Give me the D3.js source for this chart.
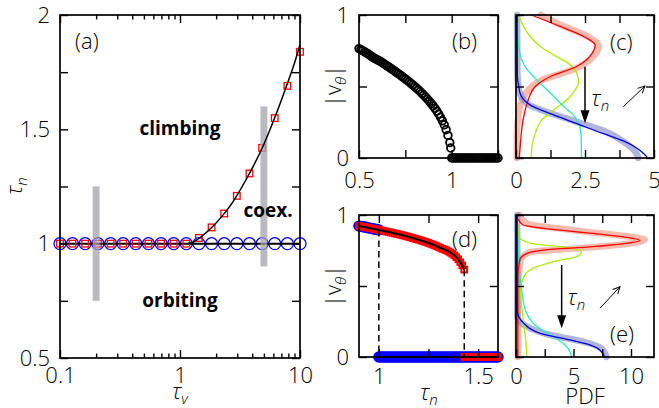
<!DOCTYPE html>
<html>
<head>
<meta charset="utf-8">
<script src="https://cdn.jsdelivr.net/npm/d3@7"></script>
<style>
  body { margin: 0; background: #fff; }
  svg text { font-family: "Open Sans", "DejaVu Sans", sans-serif; font-weight: 300; fill: #000; }
  .tick text { font-size: 22px; }
  .tick line { stroke: #000; stroke-width: 1.4; }
  .bold { font-weight: 700; font-size: 19px; }
</style>
</head>
<body>
<svg id="chart" width="659" height="408"></svg>
<script>
// ---- (a) phase diagram tau_n vs tau_v ----
const tauV = [0.1, 0.127, 0.162, 0.207, 0.264, 0.336, 0.428, 0.546, 0.695, 0.886,
              1.129, 1.438, 1.833, 2.336, 2.976, 3.793, 4.833, 6.158, 7.848, 10];
const tauNOrbit = [1, 1, 1, 1, 1, 1, 1, 1, 1, 1, 1, 1, 1, 1, 1, 1, 1, 1, 1, 1];
const tauNClimb = [1, 1, 1, 1, 1, 1, 1, 1, 1, 1,
                   1, 1.025, 1.071, 1.132, 1.209, 1.307, 1.419, 1.549, 1.690, 1.839];
const fitTauV = [1.13, 1.3, 1.5, 1.8, 2.2, 2.7, 3.3, 4, 5, 6.2, 7.6, 9, 10];
const fitTauN = [1.0, 1.008, 1.03, 1.066, 1.115, 1.175, 1.25, 1.33, 1.435, 1.555, 1.68, 1.79, 1.87];
const barTauV = [0.2, 5];
const barLow = [0.75, 0.9];
const barHigh = [1.25, 1.6];
const aXMajor = [0.1, 1, 10];
const aXMajorLabels = ['0.1', '1', '10'];
const aXMinor = [0.2, 0.3, 0.4, 0.5, 0.6, 0.7, 0.8, 0.9, 2, 3, 4, 5, 6, 7, 8, 9];
const aYTicks = [0.5, 0.75, 1, 1.25, 1.5, 1.75, 2];
const aYLabels = ['0.5', '', '1', '', '1.5', '', '2'];

// ---- (b) |v_theta| vs tau_n ----
const bTau = [0.50, 0.51, 0.52, 0.53, 0.54, 0.55, 0.56, 0.57, 0.58, 0.59,
              0.60, 0.61, 0.62, 0.63, 0.64, 0.65, 0.66, 0.67, 0.68, 0.69,
              0.70, 0.71, 0.72, 0.73, 0.74, 0.75, 0.76, 0.77, 0.78, 0.79,
              0.80, 0.81, 0.82, 0.83, 0.84, 0.85, 0.86, 0.87, 0.88, 0.89,
              0.90, 0.91, 0.92, 0.93, 0.94, 0.95, 0.96, 0.97, 0.98, 0.99, 0.995,
              1.00, 1.01, 1.02, 1.03, 1.04, 1.05, 1.06, 1.07, 1.08, 1.09, 1.10, 1.11, 1.12,
              1.13, 1.14, 1.15, 1.16, 1.17, 1.18, 1.19, 1.20, 1.21, 1.22, 1.23, 1.24, 1.25];
const bVel = [0.765, 0.758, 0.750, 0.743, 0.735, 0.727, 0.718, 0.709, 0.700, 0.693,
              0.686, 0.679, 0.671, 0.663, 0.654, 0.646, 0.637, 0.628, 0.619, 0.610,
              0.601, 0.592, 0.582, 0.573, 0.563, 0.553, 0.543, 0.533, 0.522, 0.511,
              0.500, 0.489, 0.477, 0.465, 0.452, 0.439, 0.425, 0.411, 0.396, 0.380,
              0.364, 0.347, 0.328, 0.308, 0.285, 0.260, 0.232, 0.198, 0.158, 0.108, 0.070,
              0, 0, 0, 0, 0, 0, 0, 0, 0, 0, 0, 0, 0,
              0, 0, 0, 0, 0, 0, 0, 0, 0, 0, 0, 0, 0];
const bXTicks = [0.5, 0.75, 1, 1.25];
const bXLabels = ['0.5', '', '1', ''];
const vTicks = [0, 0.5, 1];
const vLabels = ['0', '', '1'];

// ---- (c) PDF of |v_theta|, pairs [pdf, v] ----
const cPinkBand = [[0.9, 1.0], [1.75, 0.92], [2.6, 0.85], [3.0, 0.78], [2.8, 0.71], [2.1, 0.62],
                   [1.0, 0.55], [0.34, 0.45], [0.12, 0.34], [0.03, 0.15], [0.03, 0]];
const cBlueBand = [[0.04, 1.0], [0.05, 0.6], [0.1, 0.48], [0.4, 0.38], [1.0, 0.33], [2.09, 0.26],
                   [3.17, 0.19], [4.0, 0.10], [4.37, 0.03], [4.43, 0]];
const cYellow = [[0.1, 1.0], [0.47, 0.86], [0.88, 0.78], [1.37, 0.72], [1.91, 0.66], [2.21, 0.59],
                 [2.27, 0.535], [2.15, 0.477], [1.85, 0.407], [1.37, 0.337], [0.94, 0.267],
                 [0.7, 0.174], [0.58, 0.081], [0.55, 0]];
const cCyan = [[0.03, 1.0], [0.06, 0.85], [0.12, 0.75], [0.22, 0.68], [0.4, 0.62], [0.68, 0.56],
               [1.0, 0.5], [1.37, 0.43], [1.73, 0.36], [2.03, 0.31], [2.22, 0.26], [2.31, 0.22],
               [2.36, 0.15], [2.37, 0]];
const cRed = [[0.55, 1.0], [1.6, 0.92], [2.45, 0.85], [2.87, 0.79], [2.75, 0.73], [2.2, 0.64],
              [1.25, 0.57], [0.7, 0.5], [0.4, 0.38], [0.26, 0.27], [0.16, 0.1], [0.12, 0]];
const cBlue = [[0.04, 1.0], [0.05, 0.57], [0.1, 0.5], [0.17, 0.44], [0.52, 0.37], [1.25, 0.31],
               [2.21, 0.24], [3.17, 0.17], [3.89, 0.12], [4.37, 0.07], [4.6, 0.035], [4.73, 0.01], [4.75, 0]];
const cXTicks = [0, 1.25, 2.5, 3.75, 5];
const cXLabels = ['0', '', '2.5', '', '5'];

// ---- (d) |v_theta| vs tau_n, bistable ----
const dUpperTau = [0.90, 0.91, 0.92, 0.93, 0.94, 0.95, 0.96, 0.97, 0.98, 0.99,
                   1.00, 1.01, 1.02, 1.03, 1.04, 1.05, 1.06, 1.07, 1.08, 1.09,
                   1.10, 1.11, 1.12, 1.13, 1.14, 1.15, 1.16, 1.17, 1.18, 1.19,
                   1.20, 1.21, 1.22, 1.23, 1.24, 1.25, 1.26, 1.27, 1.28, 1.29,
                   1.30, 1.31, 1.32, 1.33, 1.34, 1.35, 1.36, 1.37, 1.38, 1.39,
                   1.40, 1.41, 1.42, 1.43];
const dUpperVel = [0.922, 0.920, 0.917, 0.915, 0.912, 0.909, 0.906, 0.903, 0.900, 0.898,
                   0.895, 0.892, 0.889, 0.886, 0.883, 0.880, 0.877, 0.874, 0.870, 0.867,
                   0.864, 0.861, 0.857, 0.854, 0.850, 0.846, 0.842, 0.838, 0.834, 0.830,
                   0.826, 0.822, 0.817, 0.813, 0.808, 0.803, 0.798, 0.793, 0.787, 0.781,
                   0.775, 0.769, 0.762, 0.757, 0.752, 0.744, 0.736, 0.727, 0.716, 0.703,
                   0.688, 0.668, 0.645, 0.615];
const dBlueUpperTau = [0.90, 0.91, 0.92, 0.93, 0.94, 0.95, 0.96, 0.97, 0.98, 0.99, 1.00];
const dBlueUpperVel = [0.922, 0.920, 0.917, 0.915, 0.912, 0.909, 0.906, 0.903, 0.900, 0.898, 0.895];
const dLowerTau = [1.00, 1.01, 1.02, 1.03, 1.04, 1.05, 1.06, 1.07, 1.08, 1.09,
                   1.10, 1.11, 1.12, 1.13, 1.14, 1.15, 1.16, 1.17, 1.18, 1.19,
                   1.20, 1.21, 1.22, 1.23, 1.24, 1.25, 1.26, 1.27, 1.28, 1.29,
                   1.30, 1.31, 1.32, 1.33, 1.34, 1.35, 1.36, 1.37, 1.38, 1.39,
                   1.40, 1.41, 1.42, 1.43, 1.44, 1.45, 1.46, 1.47, 1.48, 1.49,
                   1.50, 1.51, 1.52, 1.53, 1.54, 1.55, 1.56, 1.57, 1.58, 1.59, 1.60];
const dLowerVel = [0, 0, 0, 0, 0, 0, 0, 0, 0, 0, 0, 0, 0, 0, 0, 0, 0, 0, 0, 0,
                   0, 0, 0, 0, 0, 0, 0, 0, 0, 0, 0, 0, 0, 0, 0, 0, 0, 0, 0, 0,
                   0, 0, 0, 0, 0, 0, 0, 0, 0, 0, 0, 0, 0, 0, 0, 0, 0, 0, 0, 0, 0];
const dRedLowerTau = [1.43, 1.44, 1.45, 1.46, 1.47, 1.48, 1.49, 1.50, 1.51, 1.52,
                      1.53, 1.54, 1.55, 1.56, 1.57, 1.58, 1.59, 1.60];
const dRedLowerVel = [0, 0, 0, 0, 0, 0, 0, 0, 0, 0, 0, 0, 0, 0, 0, 0, 0, 0];
const dDashTau = [1.0, 1.43];
const dDashTop = [0.895, 0.615];
const dXTicks = [1, 1.25, 1.5];
const dXLabels = ['1', '', '1.5'];

// ---- (e) PDF of |v_theta|, pairs [pdf, v] ----
const ePinkBand = [[0.3, 1.0], [0.96, 0.94], [5.27, 0.89], [9.58, 0.85], [11.2, 0.825], [9.58, 0.796],
                   [5.27, 0.765], [1.25, 0.74], [0.39, 0.68], [0.16, 0.45], [0.16, 0]];
const eBlueBand = [[0.1, 1.0], [0.12, 0.28], [0.96, 0.214], [2.97, 0.155], [5.85, 0.108], [7.43, 0.06], [7.86, 0]];
const eYellow = [[0.1, 1.0], [0.24, 0.85], [1.25, 0.8], [3.84, 0.777], [5.7, 0.742], [5.27, 0.706],
                 [3.84, 0.683], [1.82, 0.636], [0.68, 0.566], [0.39, 0.47], [0.53, 0.33], [0.82, 0.143], [0.96, 0]];
const eCyan = [[0.1, 1.0], [0.25, 0.66], [0.53, 0.45], [0.82, 0.33], [1.82, 0.214], [3.26, 0.143],
               [4.41, 0.073], [4.84, 0]];
const eRed = [[0.2, 0.97], [0.6, 0.93], [2.4, 0.906], [6.71, 0.87], [9.58, 0.843], [10.8, 0.82],
              [9.58, 0.80], [6.71, 0.777], [2.4, 0.753], [0.96, 0.73], [0.33, 0.683], [0.16, 0.566], [0.16, 0]];
const eBlue = [[0.1, 1.0], [0.1, 0.33], [0.68, 0.237], [2.11, 0.167], [4.7, 0.12], [6.42, 0.085],
               [7.29, 0.05], [7.7, 0]];
const eXTicks = [0, 2.5, 5, 7.5, 10];
const eXLabels = ['0', '', '5', '', '10'];

const svg = d3.select('#chart');

// panel boxes in pixels
const pa = {x0: 60, x1: 300, y0: 15, y1: 358};
const pb = {x0: 359, x1: 498, y0: 15, y1: 158};
const pc = {x0: 516, x1: 654, y0: 15, y1: 158};
const pd = {x0: 359, x1: 498, y0: 215, y1: 357};
const pe = {x0: 516, x1: 654, y0: 215, y1: 357};

const xA = d3.scaleLog().domain([0.1, 10]).range([pa.x0, pa.x1]);
const yA = d3.scaleLinear().domain([0.5, 2]).range([pa.y1, pa.y0]);
const xB = d3.scaleLinear().domain([0.5, 1.25]).range([pb.x0, pb.x1]);
const yB = d3.scaleLinear().domain([0, 1]).range([pb.y1, pb.y0]);
const xC = d3.scaleLinear().domain([0, 5]).range([pc.x0, pc.x1]);
const yC = d3.scaleLinear().domain([0, 1]).range([pc.y1, pc.y0]);
const xD = d3.scaleLinear().domain([0.9, 1.6]).range([pd.x0, pd.x1]);
const yD = d3.scaleLinear().domain([0, 1]).range([pd.y1, pd.y0]);
const xE = d3.scaleLinear().domain([0, 12]).range([pe.x0, pe.x1]);
const yE = d3.scaleLinear().domain([0, 1]).range([pe.y1, pe.y0]);

svg.append('defs').append('marker')
    .attr('id', 'openhead')
    .attr('viewBox', '-8 -5 9 10')
    .attr('markerUnits', 'userSpaceOnUse')
    .attr('markerWidth', 9).attr('markerHeight', 10)
    .attr('refX', 0).attr('refY', 0)
    .attr('orient', 'auto')
    .append('path')
    .attr('d', 'M-7,-3.5L0,0L-7,3.5')
    .attr('fill', 'none').attr('stroke', '#000').attr('stroke-width', 1);

/**
 * Inward ticks on all four sides, labels on bottom and left only.
 */
function addAxes(p, x, y, o) {
    const g = svg.append('g');
    const fmt = labels => (d, i) => labels ? labels[i] : '';
    g.append('g').attr('transform', `translate(0,${p.y1})`)
        .call(d3.axisBottom(x).tickValues(o.xTicks).tickSize(-8)
            .tickPadding(o.xPad).tickFormat(fmt(o.xLabels)));
    g.append('g').attr('transform', `translate(0,${p.y0})`)
        .call(d3.axisTop(x).tickValues(o.xTicks).tickSize(-8).tickFormat(''));
    if (o.xMinor) {
        g.append('g').attr('transform', `translate(0,${p.y1})`)
            .call(d3.axisBottom(x).tickValues(o.xMinor).tickSize(-4.5).tickFormat(''));
        g.append('g').attr('transform', `translate(0,${p.y0})`)
            .call(d3.axisTop(x).tickValues(o.xMinor).tickSize(-4.5).tickFormat(''));
    }
    g.append('g').attr('transform', `translate(${p.x0},0)`)
        .call(d3.axisLeft(y).tickValues(o.yTicks).tickSize(-8)
            .tickPadding(o.yPad || 10).tickFormat(fmt(o.yLabels)));
    g.append('g').attr('transform', `translate(${p.x1},0)`)
        .call(d3.axisRight(y).tickValues(o.yTicks).tickSize(-8).tickFormat(''));
    g.selectAll('.domain').remove();
    g.selectAll('.tick text').attr('font-family', null).attr('font-size', null);
    g.selectAll('.tick text').filter(function () { return this.textContent === ''; }).remove();
    svg.append('rect')
        .attr('x', p.x0).attr('y', p.y0)
        .attr('width', p.x1 - p.x0).attr('height', p.y1 - p.y0)
        .attr('fill', 'none').attr('stroke', '#000').attr('stroke-width', 1.7);
}

function subLabel(sel, main, sub, italicMain) {
    sel.append('tspan').style('font-style', italicMain ? 'italic' : 'normal').text(main);
    sel.append('tspan').attr('dy', 5).attr('font-size', 15).style('font-style', 'italic').text(sub);
}

function vLabel(cx, cy) {
    const t = svg.append('text')
        .attr('transform', `translate(${cx},${cy}) rotate(-90)`)
        .attr('text-anchor', 'middle').attr('font-size', 22);
    t.append('tspan').text('|v');
    t.append('tspan').attr('dy', 5).attr('font-size', 15).style('font-style', 'italic').text('θ');
    t.append('tspan').attr('dy', -5).text('|');
}

// ================= panel (a) =================
svg.append('g').selectAll('circle')
    .data(tauV).join('circle')
    .attr('cx', d => xA(d)).attr('cy', (d, i) => yA(tauNOrbit[i]))
    .attr('r', 6).attr('fill', 'none').attr('stroke', '#0000ff').attr('stroke-width', 1.3);

svg.append('path')
    .datum(tauV)
    .attr('d', d3.line().x(d => xA(d)).y((d, i) => yA(tauNOrbit[i])))
    .attr('fill', 'none').attr('stroke', '#000').attr('stroke-width', 2);

svg.append('g').selectAll('rect')
    .data(tauV).join('rect')
    .attr('x', d => xA(d) - 3.3).attr('y', (d, i) => yA(tauNClimb[i]) - 3.3)
    .attr('width', 6.6).attr('height', 6.6)
    .attr('fill', 'none').attr('stroke', '#ff0000').attr('stroke-width', 1.3);

svg.append('g').selectAll('rect')
    .data(barTauV).join('rect')
    .attr('x', d => xA(d) - 3.5).attr('y', (d, i) => yA(barHigh[i]))
    .attr('width', 7).attr('height', (d, i) => yA(barLow[i]) - yA(barHigh[i]))
    .attr('fill', '#a4a4aa').attr('opacity', 0.75);

svg.append('path')
    .datum(fitTauV)
    .attr('d', d3.line().x(d => xA(d)).y((d, i) => yA(fitTauN[i])).curve(d3.curveMonotoneX))
    .attr('fill', 'none').attr('stroke', '#000').attr('stroke-width', 1.5);

addAxes(pa, xA, yA, {xTicks: aXMajor, xLabels: aXMajorLabels, xMinor: aXMinor, xPad: 9,
                     yTicks: aYTicks, yLabels: aYLabels});

svg.append('text').attr('x', 75).attr('y', 49).attr('font-size', 22).text('(a)');
svg.append('text').attr('class', 'bold').attr('x', xA(1)).attr('y', yA(1.5) + 6)
    .attr('text-anchor', 'middle').text('climbing');
svg.append('text').attr('class', 'bold').attr('x', 268).attr('y', yA(1.145) + 6)
    .attr('text-anchor', 'middle').text('coex.');
svg.append('text').attr('class', 'bold').attr('x', xA(1)).attr('y', yA(0.75) + 6)
    .attr('text-anchor', 'middle').text('orbiting');
subLabel(svg.append('text').attr('x', 180).attr('y', 399).attr('text-anchor', 'middle')
    .attr('font-size', 22), 'τ', 'v', true);
subLabel(svg.append('text').attr('transform', 'translate(22,186) rotate(-90)')
    .attr('text-anchor', 'middle').attr('font-size', 22), 'τ', 'n', true);

// ================= panel (b) =================
svg.append('g').selectAll('circle')
    .data(bTau).join('circle')
    .attr('cx', d => xB(d)).attr('cy', (d, i) => yB(bVel[i]))
    .attr('r', 3.8).attr('fill', 'none').attr('stroke', '#000').attr('stroke-width', 1.8);

addAxes(pb, xB, yB, {xTicks: bXTicks, xLabels: bXLabels, xPad: 14,
                     yTicks: vTicks, yLabels: vLabels});
svg.append('text').attr('x', 452).attr('y', 49).attr('font-size', 22).text('(b)');
vLabel(341, 86);

// ================= panel (c) =================
function pdfCurves(x, y, bands, lines) {
    const line = d3.line().x(d => x(d[0])).y(d => y(d[1])).curve(d3.curveMonotoneY);
    bands.forEach(b => svg.append('path').datum(b.data).attr('d', line)
        .attr('fill', 'none').attr('stroke', b.color).attr('stroke-width', 6.5)
        .attr('stroke-opacity', 0.6).attr('stroke-linecap', 'round'));
    lines.forEach(l => svg.append('path').datum(l.data).attr('d', line)
        .attr('fill', 'none').attr('stroke', l.color).attr('stroke-width', 1.3));
}

pdfCurves(xC, yC,
    [{data: cPinkBand, color: '#f08c78'}, {data: cBlueBand, color: '#7c84c8'}],
    [{data: cYellow, color: '#aaee00'}, {data: cCyan, color: '#22eebb'},
     {data: cRed, color: '#ff0000'}, {data: cBlue, color: '#0000e0'}]);

addAxes(pc, xC, yC, {xTicks: cXTicks, xLabels: cXLabels, xPad: 14, yTicks: vTicks, yLabels: null});
svg.append('text').attr('x', 610).attr('y', 50).attr('font-size', 22).text('(c)');

function tauArrow(x, y, ax, aTop, aBot, tx, ty, d0, d1) {
    const px = x(ax), y0 = y(aTop), y1 = y(aBot);
    svg.append('line').attr('x1', px).attr('x2', px).attr('y1', y0).attr('y2', y1 - 8)
        .attr('stroke', '#000').attr('stroke-width', 1.5);
    svg.append('path').attr('d', `M${px - 4.5},${y1 - 13}L${px + 4.5},${y1 - 13}L${px},${y1}Z`)
        .attr('fill', '#000');
    subLabel(svg.append('text').attr('x', x(tx)).attr('y', y(ty)).attr('font-size', 22), 'τ', 'n', true);
    svg.append('line')
        .attr('x1', x(d0[0])).attr('y1', y(d0[1])).attr('x2', x(d1[0])).attr('y2', y(d1[1]))
        .attr('stroke', '#000').attr('stroke-width', 1).attr('marker-end', 'url(#openhead)');
}
tauArrow(xC, yC, 2.5, 0.638, 0.243, 2.74, 0.363, [3.89, 0.359], [4.67, 0.503]);

// ================= panel (d) =================
svg.append('g').selectAll('circle')
    .data(dBlueUpperTau.concat(dLowerTau)).join('circle')
    .attr('cx', d => xD(d))
    .attr('cy', (d, i) => yD(dBlueUpperVel.concat(dLowerVel)[i]))
    .attr('r', 4.2).attr('fill', 'none').attr('stroke', '#0000ff').attr('stroke-width', 3);

svg.append('g').selectAll('rect')
    .data(dUpperTau.concat(dRedLowerTau)).join('rect')
    .attr('x', d => xD(d) - 2.8)
    .attr('y', (d, i) => yD(dUpperVel.concat(dRedLowerVel)[i]) - 2.8)
    .attr('width', 5.6).attr('height', 5.6)
    .attr('fill', 'none').attr('stroke', '#ff0000').attr('stroke-width', 2);

svg.append('g').selectAll('line')
    .data(dDashTau).join('line')
    .attr('x1', d => xD(d)).attr('x2', d => xD(d))
    .attr('y1', (d, i) => yD(dDashTop[i])).attr('y2', yD(0))
    .attr('stroke', '#000').attr('stroke-width', 1.5).attr('stroke-dasharray', '6.5,4');

const dLine = d3.line().x(d => xD(d[0])).y(d => yD(d[1]));
svg.append('path').datum(dUpperTau.map((t, i) => [t, dUpperVel[i]]))
    .attr('d', dLine.curve(d3.curveMonotoneX))
    .attr('fill', 'none').attr('stroke', '#000').attr('stroke-width', 2);
svg.append('path').datum(dLowerTau.map((t, i) => [t, dLowerVel[i]]))
    .attr('d', dLine.curve(d3.curveLinear))
    .attr('fill', 'none').attr('stroke', '#000').attr('stroke-width', 2);

addAxes(pd, xD, yD, {xTicks: dXTicks, xLabels: dXLabels, xPad: 11,
                     yTicks: vTicks, yLabels: vLabels});
svg.append('text').attr('x', 452).attr('y', 247).attr('font-size', 22).text('(d)');
vLabel(341, 286);
subLabel(svg.append('text').attr('x', 429).attr('y', 400).attr('text-anchor', 'middle')
    .attr('font-size', 22), 'τ', 'n', true);

// ================= panel (e) =================
pdfCurves(xE, yE,
    [{data: ePinkBand, color: '#f08c78'}, {data: eBlueBand, color: '#7c84c8'}],
    [{data: eYellow, color: '#aaee00'}, {data: eCyan, color: '#22eebb'},
     {data: eRed, color: '#ff0000'}, {data: eBlue, color: '#0000e0'}]);

addAxes(pe, xE, yE, {xTicks: eXTicks, xLabels: eXLabels, xPad: 11, yTicks: vTicks, yLabels: null});
svg.append('text').attr('x', 610).attr('y', 342).attr('font-size', 22).text('(e)');
tauArrow(xE, yE, 3.97, 0.648, 0.202, 4.5, 0.366, [7.3, 0.343], [9.04, 0.495]);
svg.append('text').attr('x', 585).attr('y', 404).attr('text-anchor', 'middle')
    .attr('font-size', 22).text('PDF');
</script>
</body>
</html>
